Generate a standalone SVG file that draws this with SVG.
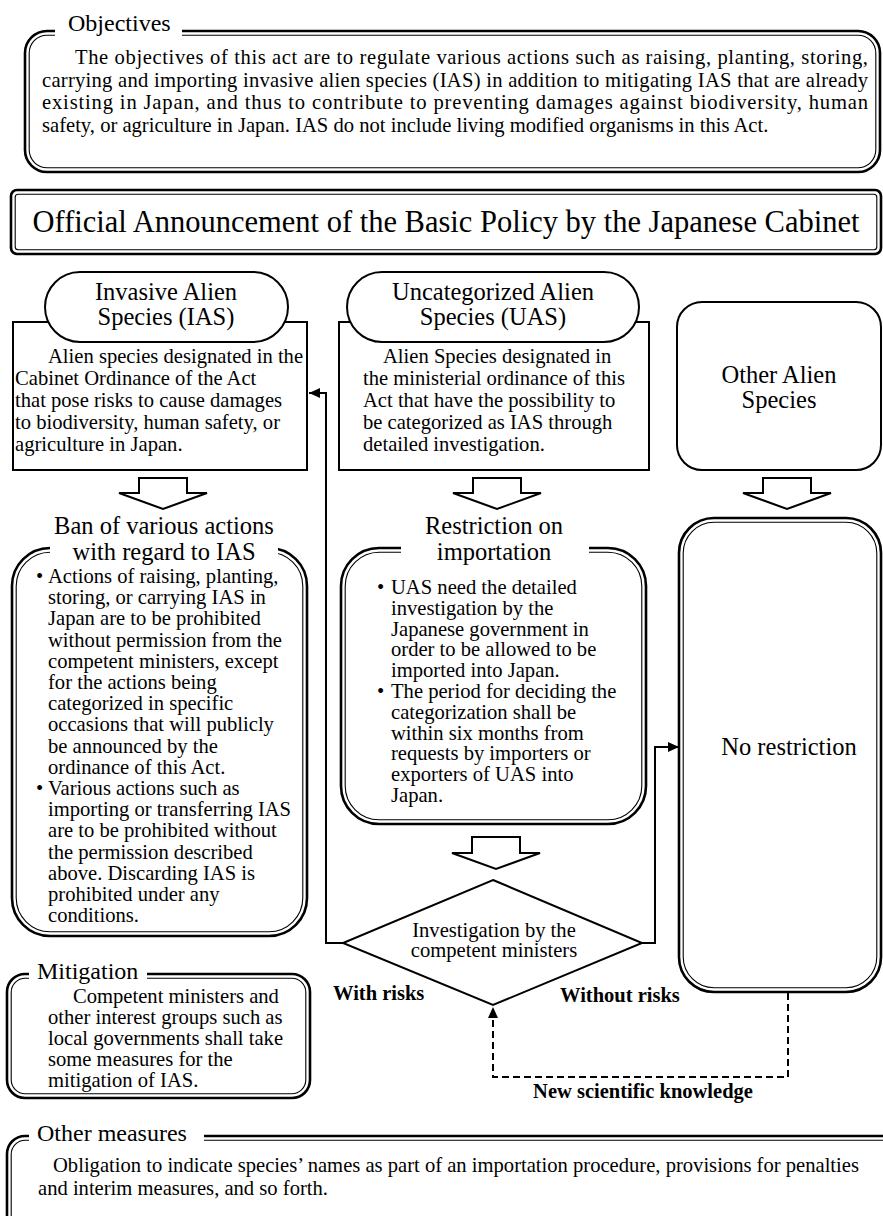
<svg xmlns="http://www.w3.org/2000/svg" width="883" height="1216" viewBox="0 0 883 1216">
<defs>
<style>
.tx{font-family:"Liberation Serif","Times New Roman",serif;font-size:20.6px;fill:#000}
.hd{font-size:24.5px}
.ttl{font-size:24px}
.big{font-size:30.5px}
.bd{font-weight:bold;font-size:20.5px}
.mid{text-anchor:middle}
.o{fill:#fff;stroke:#000;stroke-width:2.6}
.i{fill:none;stroke:#000;stroke-width:1.1}
.s{fill:#fff;stroke:#000;stroke-width:2}
.c{fill:none;stroke:#000;stroke-width:2}
.d{stroke-dasharray:7 4}
.gap{fill:#fff;stroke:none}
</style>
<marker id="ah" markerUnits="userSpaceOnUse" markerWidth="12" markerHeight="10" refX="11" refY="5" orient="auto">
<path d="M0,0 L11,5 L0,10 z" fill="#000"/>
</marker>
</defs>
<rect width="883" height="1216" fill="#fff"/>

<g id="objectives">
<rect class="o" x="25" y="31" width="855" height="141" rx="22"/>
<rect class="i" x="29.2" y="35.2" width="846.6" height="132.6" rx="18"/>
<rect class="gap" x="55" y="24" width="127" height="16"/>
<text class="tx ttl" x="68" y="31">Objectives</text>
<text class="tx" x="75" y="64" textLength="793">The objectives of this act are to regulate various actions such as raising, planting, storing,</text>
<text class="tx" x="42" y="86.5" textLength="826">carrying and importing invasive alien species (IAS) in addition to mitigating IAS that are already</text>
<text class="tx" x="42" y="109" textLength="826">existing in Japan, and thus to contribute to preventing damages against biodiversity, human</text>
<text class="tx" x="42" y="131.5">safety, or agriculture in Japan. IAS do not include living modified organisms in this Act.</text>
</g>

<g id="official">
<rect class="o" x="11" y="190" width="870" height="64" rx="6"/>
<rect class="i" x="15.2" y="194.2" width="861.6" height="55.6" rx="3"/>
<text class="tx big mid" x="446" y="232">Official Announcement of the Basic Policy by the Japanese Cabinet</text>
</g>

<g id="ias">
<rect class="s" x="13" y="322" width="294" height="148"/>
<rect class="s" x="45" y="272" width="243" height="70" rx="35"/>
<text class="tx hd mid" x="166" y="300">Invasive Alien</text>
<text class="tx hd mid" x="166" y="325">Species (IAS)</text>
<text class="tx" x="48" y="363">Alien species designated in the</text>
<text class="tx" x="15" y="385">Cabinet Ordinance of the Act</text>
<text class="tx" x="15" y="407">that pose risks to cause damages</text>
<text class="tx" x="15" y="429">to biodiversity, human safety, or</text>
<text class="tx" x="15" y="451">agriculture in Japan.</text>
</g>

<g id="uas">
<rect class="s" x="339" y="322" width="310" height="148"/>
<rect class="s" x="347" y="272" width="292" height="70" rx="35"/>
<text class="tx hd mid" x="493" y="300">Uncategorized Alien</text>
<text class="tx hd mid" x="493" y="325">Species (UAS)</text>
<text class="tx" x="383" y="363">Alien Species designated in</text>
<text class="tx" x="363" y="385">the ministerial ordinance of this</text>
<text class="tx" x="363" y="407">Act that have the possibility to</text>
<text class="tx" x="363" y="429">be categorized as IAS through</text>
<text class="tx" x="363" y="451">detailed investigation.</text>
</g>

<g id="other-alien">
<rect class="s" x="677" y="302" width="204" height="168" rx="25"/>
<text class="tx hd mid" x="779" y="383">Other Alien</text>
<text class="tx hd mid" x="779" y="408">Species</text>
</g>

<g id="arrows-down">
<polygon class="s" points="139,478 187,478 187,493 207,493 163,509 119,493 139,493"/>
<polygon class="s" points="473,478 521,478 521,493 541,493 497,509 453,493 473,493"/>
<polygon class="s" points="763,478 811,478 811,493 831,493 787,509 743,493 763,493"/>
<polygon class="s" points="472,837 520,837 520,853 540,853 496,869 452,853 472,853"/>
</g>

<g id="ban">
<rect class="o" x="12" y="548" width="295" height="388" rx="38"/>
<rect class="i" x="16.2" y="552.2" width="286.6" height="379.6" rx="34"/>
<rect class="gap" x="50" y="540" width="228" height="16"/>
<text class="tx hd mid" x="164" y="534">Ban of various actions</text>
<text class="tx hd mid" x="164" y="560">with regard to IAS</text>
<text class="tx" x="36" y="583">•</text>
<text class="tx" x="48" y="583">Actions of raising, planting,</text>
<text class="tx" x="48" y="604.2">storing, or carrying IAS in</text>
<text class="tx" x="48" y="625.4">Japan are to be prohibited</text>
<text class="tx" x="48" y="646.6">without permission from the</text>
<text class="tx" x="48" y="667.8">competent ministers, except</text>
<text class="tx" x="48" y="689">for the actions being</text>
<text class="tx" x="48" y="710.2">categorized in specific</text>
<text class="tx" x="48" y="731.4">occasions that will publicly</text>
<text class="tx" x="48" y="752.6">be announced by the</text>
<text class="tx" x="48" y="773.8">ordinance of this Act.</text>
<text class="tx" x="36" y="795">•</text>
<text class="tx" x="48" y="795">Various actions such as</text>
<text class="tx" x="48" y="816.2">importing or transferring IAS</text>
<text class="tx" x="48" y="837.4">are to be prohibited without</text>
<text class="tx" x="48" y="858.6">the permission described</text>
<text class="tx" x="48" y="879.8">above. Discarding IAS is</text>
<text class="tx" x="48" y="901">prohibited under any</text>
<text class="tx" x="48" y="922.2">conditions.</text>
</g>

<g id="restriction">
<rect class="o" x="341" y="548" width="305" height="276" rx="38"/>
<rect class="i" x="345.2" y="552.2" width="296.6" height="267.6" rx="34"/>
<rect class="gap" x="401" y="540" width="188" height="16"/>
<text class="tx hd mid" x="494" y="534">Restriction on</text>
<text class="tx hd mid" x="494" y="560">importation</text>
<text class="tx" x="377" y="594">•</text>
<text class="tx" x="391" y="594">UAS need the detailed</text>
<text class="tx" x="391" y="614.8">investigation by the</text>
<text class="tx" x="391" y="635.6">Japanese government in</text>
<text class="tx" x="391" y="656.4">order to be allowed to be</text>
<text class="tx" x="391" y="677.2">imported into Japan.</text>
<text class="tx" x="377" y="698">•</text>
<text class="tx" x="391" y="698">The period for deciding the</text>
<text class="tx" x="391" y="718.8">categorization shall be</text>
<text class="tx" x="391" y="739.6">within six months from</text>
<text class="tx" x="391" y="760.4">requests by importers or</text>
<text class="tx" x="391" y="781.2">exporters of UAS into</text>
<text class="tx" x="391" y="802">Japan.</text>
</g>

<g id="no-restriction">
<rect class="o" x="679" y="518" width="202" height="474" rx="35"/>
<rect class="i" x="683.2" y="522.2" width="193.6" height="465.6" rx="31"/>
<text class="tx hd mid" x="789" y="755">No restriction</text>
</g>

<g id="investigation">
<polygon class="s" points="493,880 642,943 493,1005 343,943"/>
<text class="tx mid" x="494" y="937">Investigation by the</text>
<text class="tx mid" x="494" y="957">competent ministers</text>
</g>

<g id="connectors">
<polyline class="c" points="343,943 326,943 326,393 309,393" marker-end="url(#ah)"/>
<polyline class="c" points="642,943 655,943 655,747 679,747" marker-end="url(#ah)"/>
<polyline class="c d" points="788,993 788,1077 493,1077 493,1007" marker-end="url(#ah)"/>
<text class="tx bd" x="333" y="1000">With risks</text>
<text class="tx bd" x="560" y="1002">Without risks</text>
<text class="tx bd mid" x="643" y="1098">New scientific knowledge</text>
</g>

<g id="mitigation">
<rect class="o" x="7" y="974" width="303" height="124" rx="18"/>
<rect class="i" x="11.2" y="978.2" width="294.6" height="115.6" rx="14"/>
<rect class="gap" x="29" y="966" width="118" height="16"/>
<text class="tx ttl" x="37" y="979">Mitigation</text>
<text class="tx" x="73" y="1003">Competent ministers and</text>
<text class="tx" x="48" y="1024">other interest groups such as</text>
<text class="tx" x="48" y="1045">local governments shall take</text>
<text class="tx" x="48" y="1066">some measures for the</text>
<text class="tx" x="48" y="1087">mitigation of IAS.</text>
</g>

<g id="other-measures">
<rect class="o" x="7" y="1136" width="900" height="200" rx="18"/>
<rect class="i" x="11.2" y="1140.2" width="891.6" height="191.6" rx="14"/>
<rect class="gap" x="29" y="1128" width="175" height="16"/>
<text class="tx ttl" x="37" y="1141">Other measures</text>
<text class="tx" x="53" y="1172">Obligation to indicate species’ names as part of an importation procedure, provisions for penalties</text>
<text class="tx" x="38" y="1195">and interim measures, and so forth.</text>
</g>
</svg>
